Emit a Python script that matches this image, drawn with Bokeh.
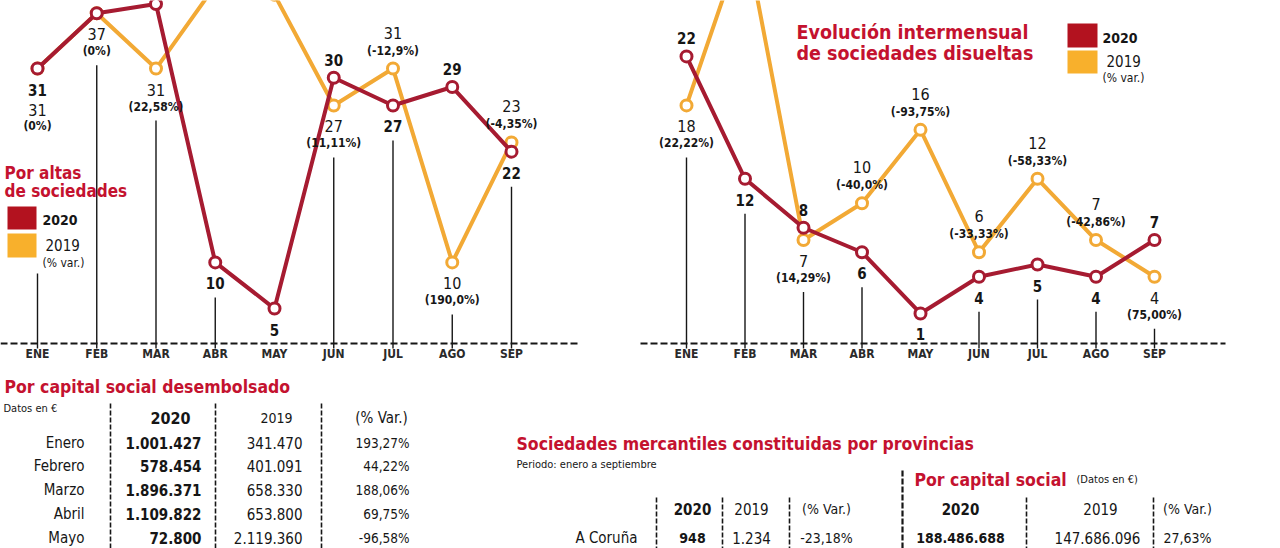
from bokeh.plotting import figure
from bokeh.layouts import column, row
from bokeh.models import Range1d
from bokeh.core.properties import value
from bokeh.embed import file_html
from bokeh.resources import INLINE

# ---------------- data ----------------
months = ["ENE", "FEB", "MAR", "ABR", "MAY", "JUN", "JUL", "AGO", "SEP"]

altas_2020 = [31, 37, 38, 10, 5, 30, 27, 29, 22]
altas_2019 = [31, 37, 31, 40, 39, 27, 31, 10, 23]
altas_var = ["(0%)", "(0%)", "(22,58%)", "(-75,00%)", "(-87,18%)", "(11,11%)", "(-12,9%)", "(190,0%)", "(-4,35%)"]

disueltas_2020 = [22, 12, 8, 6, 1, 4, 5, 4, 7]
disueltas_2019 = [18, 32, 7, 10, 16, 6, 12, 7, 4]
disueltas_var = ["(22,22%)", "(-62,50%)", "(14,29%)", "(-40,0%)", "(-93,75%)", "(-33,33%)", "(-58,33%)", "(-42,86%)", "(75,00%)"]

capital_meses = ["Enero", "Febrero", "Marzo", "Abril", "Mayo"]
capital_2020 = [1001427, 578454, 1896371, 1109822, 72800]
capital_2019 = [341470, 401091, 658330, 653800, 2119360]
capital_var = ["193,27%", "44,22%", "188,06%", "69,75%", "-96,58%"]

provincias = ["A Coruña"]
prov_2020 = [948]
prov_2019 = [1234]
prov_var = ["-23,18%"]
prov_cap_2020 = [188486688]
prov_cap_2019 = [147686096]
prov_cap_var = ["27,63%"]

# ---------------- style / layout ----------------
RED = "#a61b31"
YEL = "#f2a935"
TITLE_RED = "#c4122f"
LEG_RED = "#b3121f"
LEG_YEL = "#f8b02c"
INK = "#161616"
FONT = value("DejaVu Sans Condensed")

# label placement: a = above, b = below, bb = below, stacked under the 2020 label
pos20_L = ["b", "a", "a", "b", "b", "a", "b", "a", "b"]
pos19_L = ["bb", "b", "b", "a", "a", "b", "a", "b", "a"]
pos20_R = ["a", "b", "a", "b", "b", "b", "b", "b", "a"]
pos19_R = ["b", "a", "b", "a", "a", "a", "a", "a", "b"]
OFF20 = {"a": -18, "b": 21}
OFF19 = {"a": (-36, -18), "b": (21, 38), "bb": (41, 57)}


def fmt(n):
    return f"{n:,}".replace(",", ".")


def make_fig(w, h, xr, yr):
    p = figure(width=w, height=h, x_range=xr, y_range=yr, output_backend="svg",
               toolbar_location=None, tools="", x_axis_location=None, y_axis_location=None,
               min_border=0, outline_line_color=None,
               background_fill_color="white", border_fill_color="white")
    p.grid.visible = False
    return p


def txt(p, x, y, t, size, color=INK, bold=False, align="left", yo=None):
    if len(t) == 0:
        return
    kw = dict(x=x, y=y, text=t, text_font=FONT, text_font_size=f"{size}px",
              text_color=color, text_font_style="bold" if bold else "normal",
              text_align=align, text_baseline="middle")
    if yo is not None:
        kw["y_offset"] = yo
    p.text(**kw)


def build_chart(fig_left, w, h, x0, dx, zero, ppu, v20, v19, var, pos20, pos19,
                axis_px, axis_l_px, axis_r_px, leader_floor):
    top_px = 0
    xr = Range1d((fig_left - x0) / dx, (fig_left + w - x0) / dx)
    yr = Range1d((zero - (top_px + h)) / ppu, (zero - top_px) / ppu)
    p = make_fig(w, h, xr, yr)
    X = lambda px: (px - x0) / dx
    Y = lambda py: (zero - py) / ppu
    n = len(months)
    xs = list(range(n))

    ay = Y(axis_px)
    p.segment(x0=[X(axis_l_px)], y0=[ay], x1=[X(axis_r_px)], y1=[ay],
              line_color=INK, line_width=2.2, line_dash="7 3")

    lx, ltop, lbot = [], [], []
    for i in range(n):
        bottoms = []
        if pos20[i] == "b":
            bottoms.append(zero - v20[i] * ppu + OFF20["b"])
        if pos19[i] in ("b", "bb"):
            bottoms.append(zero - v19[i] * ppu + OFF19[pos19[i]][1])
        if not bottoms:
            bottoms.append(zero - min(v20[i], v19[i]) * ppu)
        t = max(bottoms) + 14
        t = max(t, leader_floor.get(i, t))
        if axis_px - t >= 12:
            lx.append(i)
            ltop.append(Y(t))
            lbot.append(Y(axis_px + 5))
    p.segment(x0=lx, y0=ltop, x1=lx, y1=lbot, line_color=INK, line_width=1.4)

    txt(p, xs, [ay] * n, months, 12, color="#2a2a2a", bold=True, align="center", yo=10)

    p.line(xs, v19, line_color=YEL, line_width=4, line_join="round")
    p.scatter(xs, v19, size=11, marker="circle", fill_color="white", line_color=YEL, line_width=3)
    p.line(xs, v20, line_color=RED, line_width=4, line_join="round")
    p.scatter(xs, v20, size=11, marker="circle", fill_color="white", line_color=RED, line_width=3)

    # value labels (only those that fall inside the picture)
    def visible(v, off):
        return zero - v * ppu + off >= 8

    i20 = [i for i in xs if visible(v20[i], OFF20[pos20[i]])]
    txt(p, i20, [v20[i] for i in i20], [str(v20[i]) for i in i20], 15, bold=True,
        align="center", yo=[OFF20[pos20[i]] for i in i20])
    i19 = [i for i in xs if visible(v19[i], OFF19[pos19[i]][0])]
    txt(p, i19, [v19[i] for i in i19], [str(v19[i]) for i in i19], 16, align="center",
        yo=[OFF19[pos19[i]][0] for i in i19])
    txt(p, i19, [v19[i] for i in i19], [var[i] for i in i19], 12, bold=True, align="center",
        yo=[OFF19[pos19[i]][1] for i in i19])
    return p, X, Y


def legend(p, X, Y, lx0, lx1, ry0, ry1, yy0, yy1, tx, t1y, t2x, t2y, t3y):
    p.quad(left=[X(lx0)], right=[X(lx1)], top=[Y(ry0)], bottom=[Y(ry1)],
           fill_color=LEG_RED, line_color=None)
    p.quad(left=[X(lx0)], right=[X(lx1)], top=[Y(yy0)], bottom=[Y(yy1)],
           fill_color=LEG_YEL, line_color=None)
    txt(p, [X(tx)], [Y(t1y)], ["2020"], 14, bold=True)
    txt(p, [X(t2x)], [Y(t2y)], ["2019"], 15)
    txt(p, [X(tx)], [Y(t3y)], ["(% var.)"], 12)


# ---- top-left chart: altas ----
pL, XL, YL = build_chart(0, 628, 372, 37, 59.25, 354.2, 9.23, altas_2020, altas_2019, altas_var,
                         pos20_L, pos19_L, 343, 0, 580, {0: 273})
txt(pL, [XL(4), XL(4)], [YL(172), YL(190)], ["Por altas", "de sociedades"], 17,
    color=TITLE_RED, bold=True)
legend(pL, XL, YL, 7, 36, 206, 229, 233, 257, 42, 219, 45, 244, 262)

# ---- top-right chart: disueltas ----
pR, XR, YR = build_chart(628, 652, 372, 686, 58.5, 325.2, 12.24, disueltas_2020, disueltas_2019,
                         disueltas_var, pos20_R, pos19_R, 343, 640, 1225, {})
txt(pR, [XR(796), XR(796)], [YR(32), YR(53)],
    ["Evolución intermensual", "de sociedades disueltas"], 19.5, color=TITLE_RED, bold=True)
legend(pR, XR, YR, 1067, 1097, 23, 47, 50, 73, 1102, 37, 1106, 60, 77)

# ---- bottom-left table: capital social desembolsado ----
pBL = make_fig(490, 176, Range1d(0, 490), Range1d(548, 372))
txt(pBL, [4], [386], ["Por capital social desembolsado"], 17.5, color=TITLE_RED, bold=True)
txt(pBL, [3], [408], ["Datos en €"], 11)
sep_x = [110, 215, 321]
pBL.segment(x0=sep_x, y0=[403] * 3, x1=sep_x, y1=[548] * 3, line_color=INK,
            line_width=1.6, line_dash="5 2")
txt(pBL, [170], [417], ["2020"], 16, bold=True, align="center")
txt(pBL, [276], [417], ["2019"], 14, align="center")
txt(pBL, [381], [417], ["(% Var.)"], 15, align="center")
row_y = [442 + 23.9 * i for i in range(len(capital_meses))]
nrow = len(capital_meses)
txt(pBL, [84] * nrow, row_y, capital_meses, 15, align="right")
txt(pBL, [201] * nrow, row_y, [fmt(v) for v in capital_2020], 15, bold=True, align="right")
txt(pBL, [302] * nrow, row_y, [fmt(v) for v in capital_2019], 15, align="right")
txt(pBL, [409] * nrow, row_y, capital_var, 13.5, align="right")

# ---- bottom-right table: sociedades por provincias ----
pBR = make_fig(790, 176, Range1d(490, 1280), Range1d(548, 372))
txt(pBR, [516], [443], ["Sociedades mercantiles constituidas por provincias"], 17.5,
    color=TITLE_RED, bold=True)
txt(pBR, [516], [464], ["Periodo: enero a septiembre"], 11)
sx = [656, 722, 789, 1026, 1153]
pBR.segment(x0=sx, y0=[497] * 5, x1=sx, y1=[548] * 5, line_color=INK, line_width=1.6,
            line_dash="5 2")
pBR.segment(x0=[902], y0=[470], x1=[902], y1=[548], line_color=INK, line_width=2.2,
            line_dash="6 2")
txt(pBR, [914], [479], ["Por capital social"], 17.5, color=TITLE_RED, bold=True)
txt(pBR, [1076], [479], ["(Datos en €)"], 11)
hy = 508
txt(pBR, [692, 960], [hy, hy], ["2020", "2020"], 15, bold=True, align="center")
txt(pBR, [751, 1100], [hy, hy], ["2019", "2019"], 15, align="center")
txt(pBR, [826, 1187], [hy, hy], ["(% Var.)", "(% Var.)"], 14, align="center")
ry = [537 + 30 * i for i in range(len(provincias))]
npv = len(provincias)
txt(pBR, [637] * npv, ry, provincias, 15, align="right")
txt(pBR, [692] * npv, ry, [fmt(v) for v in prov_2020], 14, bold=True, align="center")
txt(pBR, [751] * npv, ry, [fmt(v) for v in prov_2019], 15, align="center")
txt(pBR, [826] * npv, ry, prov_var, 14, align="center")
txt(pBR, [960] * npv, ry, [fmt(v) for v in prov_cap_2020], 14, bold=True, align="center")
txt(pBR, [1097] * npv, ry, [fmt(v) for v in prov_cap_2019], 15, align="center")
txt(pBR, [1187] * npv, ry, prov_cap_var, 14, align="center")

layout = column(row(pL, pR), row(pBL, pBR))
open("out.html", "w").write(file_html(layout, INLINE))
